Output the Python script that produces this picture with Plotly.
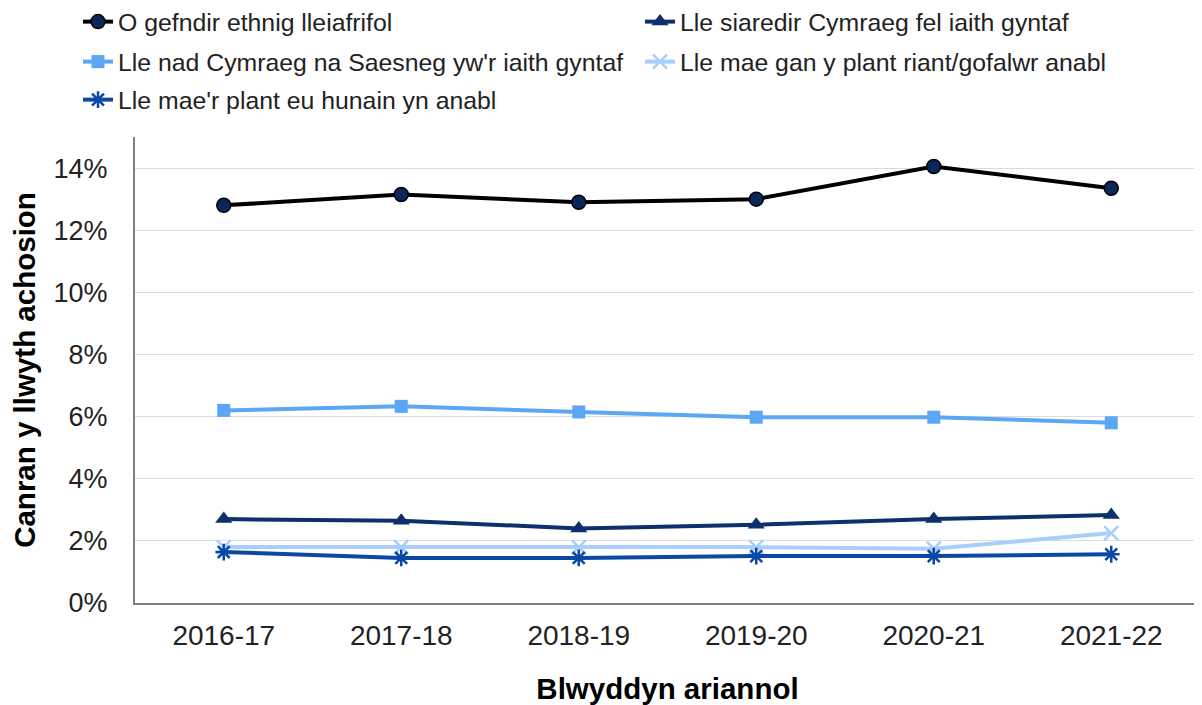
import plotly.graph_objects as go

years = ["2016-17", "2017-18", "2018-19", "2019-20", "2020-21", "2021-22"]
ethnic = [12.8, 13.15, 12.9, 13.0, 14.05, 13.35]
welsh_first = [2.7, 2.65, 2.4, 2.52, 2.7, 2.83]
other_lang = [6.2, 6.33, 6.15, 5.98, 5.98, 5.8]
parent_disabled = [1.8, 1.8, 1.8, 1.8, 1.75, 2.25]
child_disabled = [1.64, 1.45, 1.45, 1.51, 1.51, 1.57]

names = [
    "O gefndir ethnig lleiafrifol",
    "Lle siaredir Cymraeg fel iaith gyntaf",
    "Lle nad Cymraeg na Saesneg yw'r iaith gyntaf",
    "Lle mae gan y plant riant/gofalwr anabl",
    "Lle mae'r plant eu hunain yn anabl",
]

FONT = "Liberation Sans, Arial, sans-serif"
W, H = 1194, 697  # page has an 8px body margin
fig = go.Figure()

def add(vals, name, lcolor, mcolor, symbol, size, legend, mline=None):
    marker = dict(color=mcolor, symbol=symbol, size=size)
    if mline:
        marker["line"] = mline
    fig.add_trace(go.Scatter(
        x=years, y=[v / 100 for v in vals], name=name, mode="lines+markers",
        line=dict(color=lcolor, width=4), marker=marker, legend=legend,
        showlegend=True,
    ))

add(ethnic, names[0], "#000000", "#0b2658", "circle", 14, "legend",
    dict(color="#000000", width=1.5))
add(welsh_first, names[1], "#0d2f6b", "#0d2f6b", "triangle-up", 15, "legend2")
add(other_lang, names[2], "#5ba6f5", "#5ba6f5", "square", 13, "legend3")
add(parent_disabled, names[3], "#a9cefc", "#a9cefc", "x-thin", 14, "legend4",
    dict(color="#a9cefc", width=2.5))
add(child_disabled, names[4], "#0a48a6", "#0a48a6", "asterisk", 14, "legend5",
    dict(color="#0a48a6", width=2.5))

def leg(xpx, ypx):
    return dict(orientation="h", xref="container", yref="container",
                x=xpx / W, y=1 - ypx / H, xanchor="left", yanchor="middle",
                font=dict(family=FONT, size=24.8, color="#222"),
                bgcolor="rgba(0,0,0,0)", visible=True)

fig.update_layout(
    width=W, height=H, showlegend=True,
    paper_bgcolor="white", plot_bgcolor="white",
    margin=dict(l=127, r=2, t=129, b=102, autoexpand=False),
    font=dict(family=FONT, color="#222"),
    legend=leg(70, 14),
    legend2=leg(632, 14),
    legend3=leg(70, 54),
    legend4=leg(632, 54),
    legend5=leg(70, 92),
    xaxis=dict(
        title=dict(text="<b>Blwyddyn ariannol</b>", font=dict(size=29.5, color="#000"), standoff=32),
        range=[-0.5, 5.5],
        showline=True, linecolor="#808080", linewidth=2,
        tickfont=dict(size=28, color="#222"), ticks="", showgrid=False,
        ticklabelstandoff=6,
    ),
    yaxis=dict(
        title=dict(text="<b>Canran y llwyth achosion</b>", font=dict(size=29.5, color="#000"), standoff=14),
        range=[0, 0.15], tickvals=[0, 0.02, 0.04, 0.06, 0.08, 0.10, 0.12, 0.14],
        tickformat=".0%", tickfont=dict(size=27, color="#222"),
        showline=True, linecolor="#808080", linewidth=2,
        gridcolor="#dcdcdc", gridwidth=1, zeroline=False, ticks="",
        ticklabelstandoff=20,
    ),
)

fig.write_html("out.html")
